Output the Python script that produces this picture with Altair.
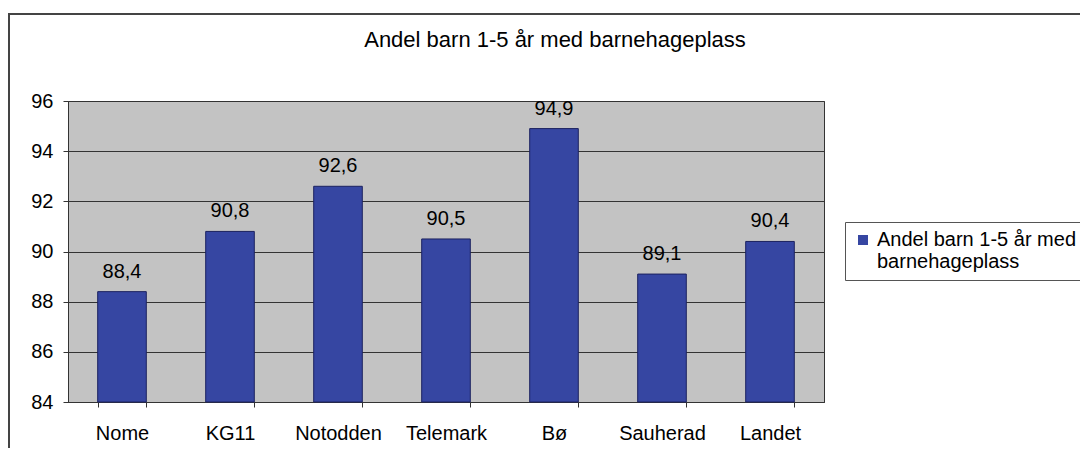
import altair as alt
import pandas as pd

categories = ["Nome", "KG11", "Notodden", "Telemark", "Bø", "Sauherad", "Landet"]
values = [88.4, 90.8, 92.6, 90.5, 94.9, 89.1, 90.4]
series_name = "Andel barn 1-5 år med barnehageplass"
y_ticks = [84, 86, 88, 90, 92, 94, 96]

df = pd.DataFrame({"kommune": categories, "andel": values, "serie": series_name})

FONT = "Liberation Sans"
BAR = "#3646A2"

base = alt.Chart(df)

bars = base.mark_bar(stroke="#1c2260", strokeWidth=1).encode(
    x=alt.X("kommune:N", sort=categories,
            scale=alt.Scale(paddingInner=0.55, paddingOuter=0.275),
            axis=alt.Axis(title=None, labelAngle=0, labelFont=FONT, labelFontSize=20,
                          labelColor="#000", domainColor="#333", tickColor="#333",
                          tickSize=5, tickBand="extent", labelPadding=16, grid=False)),
    y=alt.Y("andel:Q", scale=alt.Scale(domain=[84, 96], nice=False, zero=False, clamp=True),
            axis=alt.Axis(title=None, values=y_ticks, labelFont=FONT, labelFontSize=20,
                          labelColor="#000", domainColor="#333", tickColor="#333",
                          tickSize=5, labelPadding=10, gridColor="#333",
                          gridOpacity=1, gridWidth=1)),
    color=alt.Color("serie:N", scale=alt.Scale(range=[BAR]),
                    legend=alt.Legend(title=None, orient="none", legendX=777, legendY=121,
                                      labelFont=FONT, labelFontSize=20, labelColor="#000",
                                      symbolType="square", symbolSize=100,
                                      symbolStrokeWidth=0, labelLimit=400,
                                      labelExpr="['Andel barn 1-5 år med', 'barnehageplass']",
                                      strokeColor="#555", padding=8,
                                      fillColor="#ffffff")),
)

labels = base.transform_calculate(
    txt="replace(format(datum.andel, '.1f'), '.', ',')"
).mark_text(font=FONT, fontSize=20, baseline="alphabetic", dy=-14, color="#000").encode(
    x=alt.X("kommune:N", sort=categories),
    y="andel:Q",
    text="txt:N",
)

frame = base.mark_rect(fill=None, stroke="#444", strokeWidth=2).encode(
    x=alt.value(-59), x2=alt.value(1100), y=alt.value(-87), y2=alt.value(600)
)

chart = alt.layer(frame, bars, labels).properties(
    width=756, height=301,
    autosize=alt.AutoSizeParams(type="none"),
    padding={"left": 60, "top": 93, "right": 256, "bottom": 46},
    title=alt.TitleParams(series_name, font=FONT, fontSize=22, fontWeight="normal",
                          color="#000", anchor="middle", frame="group", dx=109, offset=-56,
                          baseline="alphabetic"),
).configure_view(fill="#C3C3C3", stroke="#333", strokeWidth=1)

chart.save("out.html", embed_options={"renderer": "svg", "actions": False})
